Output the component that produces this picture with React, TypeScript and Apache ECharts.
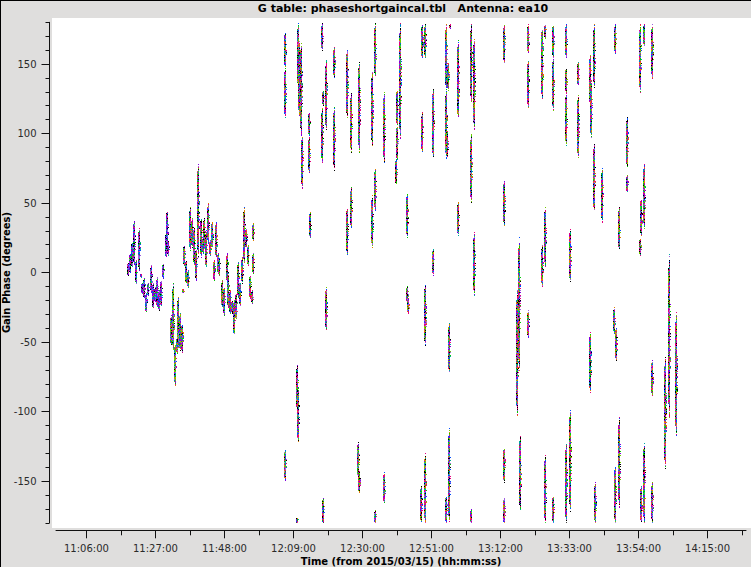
import React, { useEffect, useRef } from "react";
import * as echarts from "echarts";

// Each entry: [minutes after midnight, phase top (deg), phase bottom (deg)]
const scanA: number[][] = [
  [678.65, 7.8, -2.5], [679.26, 13.8, -0.6], [679.87, 22.2, 4.2], [680.48, 37.7, 5.4], [681.1, 9, -7.8],
  [682.1, 31.7, 1.8], [682.6, -0.1, -3], [683.0, -7.8, -15], [683.5, -4.2, -18.6], [684.0, -15, -28.2],
  [684.6, -7.8, -16.2], [685.5, 5.4, -13.8], [686.2, -7.8, -25.8], [686.9, -10.2, -21], [687.5, -3, -24.6],
  [688.2, -12.6, -27], [688.8, -5.4, -23.4], [689.4, 6.6, -4.2], [690.1, 28.1, 11.4], [690.4, 45, 18.6], [690.8, 23.3, 12.6],
];
const scanB: number[][] = [
  [691.6, -30.6, -52.2], [692.2, -7.8, -55.8], [692.8, -51, -81], [693.5, -46.2, -58.2], [693.9, -17.4, -52.2],
  [694.5, -29.4, -55.8], [695.0, -36.6, -57], [695.5, -11.4, -15], [695.8, 19.8, 5.4], [696.3, 9, -7.8], [696.9, 1.8, -10.2],
];
const scanC: number[][] = [
  [697.6, 47.3, 16.2], [698.1, 38.9, 18.6], [698.6, 32.9, 5.4], [699.3, 17.4, -5.4], [700.0, 78.5, 11.4],
  [700.8, 40.1, 11.4], [701.4, 25.8, 13.8], [701.9, 38.9, 18.6], [702.5, 30.5, 3], [703.1, 49.7, 21],
  [703.7, 23.3, 12.6], [704.3, 36.5, 18.6], [704.8, 9, -5.4], [705.4, 36.5, 11.4], [705.9, 13.8, -0.6],
  [706.4, 11.4, -1.8], [707.1, -5.4, -24.6], [707.9, -10.2, -30.6], [708.7, 13.8, -6.6], [709.2, -0.6, -24.6],
  [709.7, -12.6, -29.4], [710.3, -19.8, -29.4], [710.9, -19.8, -45], [711.5, -13.8, -34.2], [712.1, 7.8, -17.4],
  [712.7, -7.8, -23.4], [713.3, 11.4, -7.8], [713.9, 47.3, 6.6], [714.5, 31.7, 18.6], [715.1, 19.8, 5.4],
  [715.7, -1.8, -18.6], [716.3, -12.6, -22], [716.7, 35.3, 23.3], [716.7, 13.8, -0.6],
];
const scanD: number[][] = [
  [726.4, 173.2, 148], [726.4, 146.8, 112], [726.4, -127.2, -149.3],
  [730.4, 179.2, 132.9], [730.7, 167.2, 113.3], [731.2, 166, 98.9], [731.6, 98.9, 60.5],
  [730.2, -66.6, -98.9], [730.5, -83.3, -121.7], [730.2, -176.1, -180],
  [733.8, 115.7, 98.9], [733.8, 97.7, 72.5], [734.0, 43.7, 25.7],
  [737.7, 179.4, 160], [737.8, 118, 79.7], [738.1, 131.2, 120.4], [738.9, 152.8, 102.5],
  [738.9, -10.2, -41.4], [738.1, -162.5, -180],
  [741.4, 162.4, 140.8], [741.4, 119.3, 73.7],
  [745.4, 161.2, 110.9], [745.4, 47.3, 13.7], [746.4, 128.8, 86.9], [746.4, 61.7, 31.7],
  [748.8, 152.8, 86.9], [748.7, -122.2, -146.9], [749.0, -142.1, -157.7],
];
const scanE: number[][] = [
  [752.8, 144.4, 91.7], [752.9, 55.7, 18.5], [753.8, 179.2, 140.8], [753.9, 74.9, 44.9], [753.9, -170.9, -180],
  [756.5, 130, 79.7], [756.5, -143.3, -166],
  [760.4, 132, 106.1], [760.2, 82.1, 62.9], [760.4, 106, 80.9], [761.4, 179.2, 96.5],
  [763.6, 56.9, 25.7], [763.6, -9.7, -21], [764.0, -18.6, -29.4],
  [768.0, 179, 154], [768.0, 115.7, 86.9], [769.0, 179, 155.2], [769.0, -8.3, -52.2],
  [767.9, -152.9, -180], [769.0, -130, -180],
  [771.6, 132.4, 82.1], [771.6, 17.3, -2],
];
const scanF: number[][] = [
  [775.3, 179, 131.2], [775.9, 150.4, 131.2], [775.3, 131.2, 82.1], [775.6, 101.3, 82.1], [776.6, 179, 175.6],
  [775.3, -160, -180], [776.4, -35.4, -72.5], [776.4, -112, -180],
  [779.2, 167.2, 109.7], [779.2, 50.9, 26.9],
  [782.9, 179, 122.9], [783.9, 169.6, 102.5], [783.0, 100, 50.9], [783.9, 29.3, -16], [782.9, -170.4, -180],
  [793.1, 179, 150.4], [793.1, 66.5, 34.1], [793.1, -125.3, -150.5], [793.1, -162.5, -180],
];
const scanG: number[][] = [
  [796.9, -12.6, -102.5], [797.7, 25.7, -70.1], [797.8, -116.9, -170.9],
  [800.5, 179, 157.6], [800.5, 152.8, 119.3], [800.4, -27, -46.2],
  [804.5, 175.6, 145.6], [804.5, 163.6, 125.2], [805.5, 179, 168.4], [805.5, 47.3, 5], [804.5, 19.7, -10],
  [805.6, -131.3, -180], [807.9, -160, -180],
  [808.0, 179, 155.2], [808.0, 155.2, 116.9],
  [811.8, 179, 155.2], [811.8, 130, 91.7], [812.0, 146.8, 130], [811.8, -122.9, -180],
  [813.0, 31.7, -7], [813.0, -97.7, -172],
  [815.6, 151.6, 134.8], [815.6, 127.6, 83.3],
  [819.2, 156.4, 120.4], [819.4, 138.4, 97.7], [819.2, -42.6, -85.7],
  [820.6, 179, 133.6], [820.6, 92.9, 43.7], [820.8, -150.5, -180], [823.0, 74.9, 36.5],
];
const scanH: number[][] = [
  [826.8, 179, 157.6], [826.6, -24.6, -43.8], [827.2, -39, -63], [826.7, -138.5, -180],
  [828.0, 47.3, 16.1], [828.0, -103.7, -168.5],
  [830.6, 112, 76.1], [830.6, 70.1, 58.1],
  [834.5, 179, 130], [835.6, 179, 163.6], [834.8, 53.3, 26.9], [834.5, 24.5, 12.5], [835.8, 78.5, 31.7],
  [834.6, -152.9, -180], [835.7, -121.7, -180],
  [838.1, 179, 139.6], [838.1, -63, -88.1], [838.1, -150.5, -179.3],
  [842.1, -60.6, -140.9], [843.2, 13, -103.7], [845.4, -28.2, -116.9],
];

const majorTimes = [666, 687, 708, 729, 750, 771, 792, 813, 834, 855];
const minorTimes = [676.5, 697.5, 718.5, 739.5, 760.5, 781.5, 802.5, 823.5, 844.5, 865.5];
const majorPhases = [-150, -100, -50, 0, 50, 100, 150];
const minorPhases = [-180, -170, -160, -140, -130, -120, -110, -90, -80, -70, -60, -40, -30, -20, -10, 10, 20, 30, 40, 60, 70, 80, 90, 110, 120, 130, 140, 160, 170, 180];

const violetColors = ["#8000e0", "#a060e0", "#0050ff", "#8000e0", "#a060e0", "#e6007e", "#00b0a0", "#6a00d0", "#000000", "#00c800"];
const greenColors = ["#70c800", "#e6007e", "#00a890", "#e08000", "#70c800", "#000000", "#00c800", "#0050ff", "#a060e0", "#8000e0"];
const mixedColors = ["#e6007e", "#00c800", "#0050ff", "#e08000", "#000000", "#8000e0", "#00a8a0", "#70c800", "#a060e0", "#e6007e"];

const segments = [...scanA, ...scanB, ...scanC, ...scanD, ...scanE, ...scanF, ...scanG, ...scanH];

function mix(a: number, b: number): number {
  let h = (Math.imul(a, 73856093) ^ Math.imul(b, 19349663)) >>> 0;
  h = Math.imul(h ^ (h >>> 13), 1274126177) >>> 0;
  return (h ^ (h >>> 16)) >>> 0;
}

function paletteFor(t: number): string[] {
  if (t < 691.2) return violetColors;
  if (t < 697.3) return greenColors;
  return mixedColors;
}

function renderScan(params: any, api: any) {
  const t = api.value(0);
  const top = api.coord([t, api.value(1)]);
  const bottom = api.coord([t, api.value(2)]);
  const x = Math.round(top[0]);
  const y0 = Math.round(top[1]);
  const y1 = Math.round(bottom[1]);
  const colors = paletteFor(t);
  const children: any[] = [];
  const len = Math.max(1, y1 - y0);
  for (let y = y0; y <= y1; y++) {
    const edge = Math.min(y - y0, y1 - y) / len;
    for (let c = 0; c < 3; c++) {
      const h = mix(x * 5 + c, y);
      if (c === 0 && edge < 0.08) continue;
      if (c === 2 && (edge < 0.3 || h % 5 < 3)) continue;
      if (edge < 0.04 && h % 3 === 0) continue;
      children.push({
        type: "rect",
        shape: { x: x + c - 1, y, width: 1, height: 1 },
        style: { fill: colors[(h >>> 4) % colors.length] },
        silent: true,
      });
    }
  }
  return { type: "group", children };
}

const axisColor = "#111111";
const labelColor = "#2a2a2a";
const fontFamily = "'DejaVu Sans', sans-serif";

function timeLabel(v: number): string {
  const h = Math.floor(v / 60);
  const m = Math.round(v - h * 60);
  return `${String(h).padStart(2, "0")}:${String(m).padStart(2, "0")}:00`;
}

export default function App() {
  const ref = useRef<HTMLDivElement>(null);
  useEffect(() => {
    document.body.style.margin = "0";
    const chart = echarts.init(ref.current!, undefined, { renderer: "svg" });
    const xBase = { type: "value", min: 656.74, max: 866.7, position: "bottom", offset: 7.5, splitLine: { show: false } };
    const yBase = { type: "value", min: -180, max: 180, position: "left", offset: 6.5, splitLine: { show: false } };
    chart.setOption({
      animation: false,
      backgroundColor: "#dfdedd",
      title: {
        text: "G table: phaseshortgaincal.tbl   Antenna: ea10",
        left: 398,
        top: -2,
        textAlign: "center",
        textStyle: { fontFamily, fontSize: 11, fontWeight: "bold", color: "#000" },
      },
      grid: { left: 56, top: 22.3, width: 690, height: 500.5, containLabel: false, outerBoundsMode: "none" },
      graphic: [
        { type: "rect", z: -10, silent: true, shape: { x: 52, y: 18, width: 699, height: 510 }, style: { fill: "#ffffff" } },
        { type: "line", silent: true, shape: { x1: 0.5, y1: 0, x2: 0.5, y2: 567 }, style: { stroke: "#000", lineWidth: 1 } },
        { type: "line", silent: true, shape: { x1: 0, y1: 0.5, x2: 751, y2: 0.5 }, style: { stroke: "#000", lineWidth: 1 } },
      ],
      xAxis: [
        {
          ...xBase,
          name: "Time (from 2015/03/15) (hh:mm:ss)",
          nameLocation: "middle",
          nameGap: 26,
          nameMoveOverlap: false,
          nameTextStyle: { fontFamily, fontSize: 10, fontWeight: "bold", color: "#000" },
          axisLine: { show: true, onZero: false, lineStyle: { color: axisColor, width: 1 } },
          axisTick: { show: true, length: 8, customValues: majorTimes, lineStyle: { color: axisColor } },
          axisLabel: { show: true, margin: 13, customValues: majorTimes, formatter: timeLabel, fontFamily, fontSize: 10, color: labelColor },
        },
        {
          ...xBase,
          axisLine: { show: false, onZero: false },
          axisTick: { show: true, length: 5, customValues: minorTimes, lineStyle: { color: axisColor } },
          axisLabel: { show: false },
        },
      ],
      yAxis: [
        {
          ...yBase,
          name: "Gain Phase (degrees)",
          nameLocation: "middle",
          nameGap: 38,
          nameMoveOverlap: false,
          nameTextStyle: { fontFamily, fontSize: 10, fontWeight: "bold", color: "#000" },
          axisLine: { show: true, onZero: false, lineStyle: { color: axisColor, width: 1 } },
          axisTick: { show: true, length: 8, customValues: majorPhases, lineStyle: { color: axisColor } },
          axisLabel: { show: true, margin: 13, customValues: majorPhases, fontFamily, fontSize: 10, color: labelColor },
        },
        {
          ...yBase,
          axisLine: { show: false, onZero: false },
          axisTick: { show: true, length: 4, customValues: minorPhases, lineStyle: { color: axisColor } },
          axisLabel: { show: false },
        },
      ],
      series: [
        {
          type: "custom",
          xAxisIndex: 0,
          yAxisIndex: 0,
          silent: true,
          clip: true,
          renderItem: renderScan,
          data: segments,
          encode: { x: 0, y: [1, 2] },
        },
      ],
    });
    return () => chart.dispose();
  }, []);
  return <div ref={ref} style={{ position: "fixed", left: 0, top: 0, width: 751, height: 567 }} />;
}
